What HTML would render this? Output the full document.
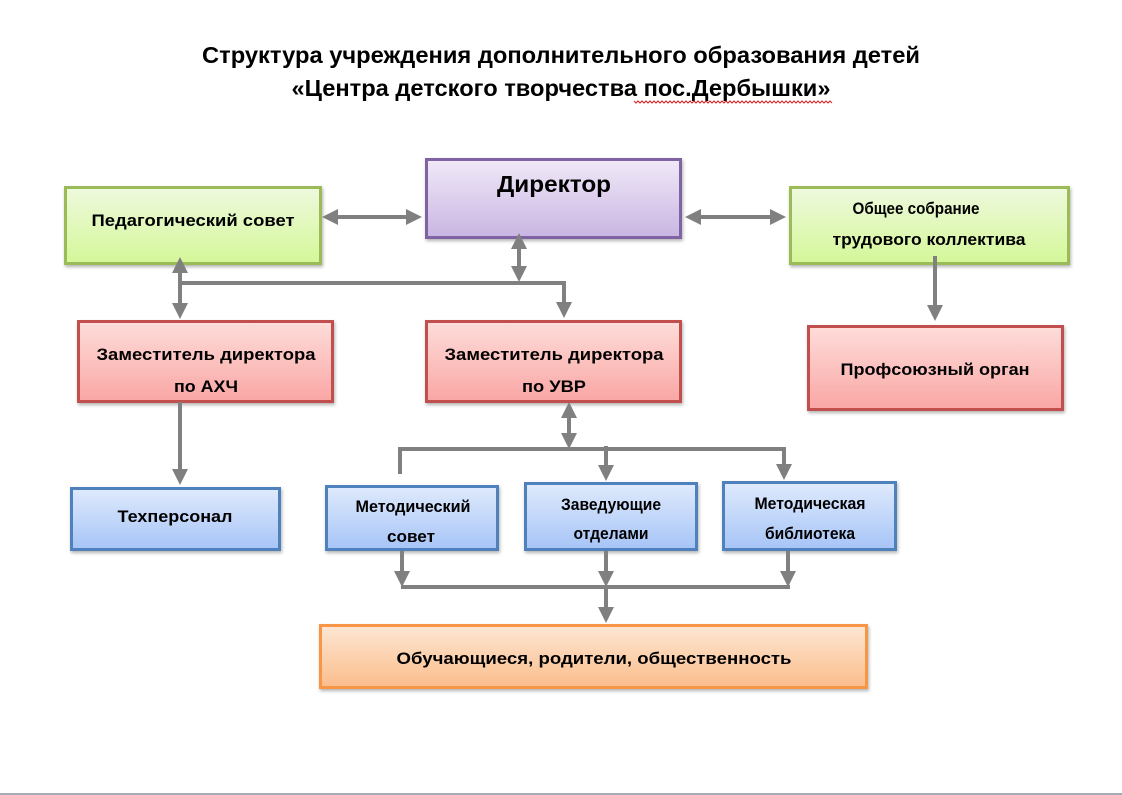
<!DOCTYPE html>
<html><head><meta charset="utf-8"><style>
html,body{margin:0;padding:0;background:#fff;}
svg{display:block;}
text{font-family:"Liberation Sans","DejaVu Sans",sans-serif;font-weight:bold;fill:#000;}
</style></head><body>
<svg width="1122" height="795" viewBox="0 0 1122 795" xmlns="http://www.w3.org/2000/svg">
<defs>
<linearGradient id="g" x1="0" y1="0" x2="0" y2="1"><stop offset="0" stop-color="#eef9dd"/><stop offset="1" stop-color="#d4f798"/></linearGradient>
<linearGradient id="p" x1="0" y1="0" x2="0" y2="1"><stop offset="0" stop-color="#f0e9f8"/><stop offset="1" stop-color="#c9b5e2"/></linearGradient>
<linearGradient id="r" x1="0" y1="0" x2="0" y2="1"><stop offset="0" stop-color="#feddda"/><stop offset="1" stop-color="#f9a6a4"/></linearGradient>
<linearGradient id="b" x1="0" y1="0" x2="0" y2="1"><stop offset="0" stop-color="#dfeafc"/><stop offset="1" stop-color="#a6c4f7"/></linearGradient>
<linearGradient id="o" x1="0" y1="0" x2="0" y2="1"><stop offset="0" stop-color="#fde6d3"/><stop offset="1" stop-color="#fbbd8b"/></linearGradient>
<filter id="sh" x="-5%" y="-5%" width="110%" height="120%"><feDropShadow dx="1" dy="2" stdDeviation="1.5" flood-color="#000" flood-opacity="0.3"/></filter>
<marker id="ah" markerWidth="4" markerHeight="4" refX="2" refY="2" orient="auto-start-reverse" markerUnits="strokeWidth"><path d="M0,0 L4,2 L0,4 z" fill="#808080"/></marker>
</defs>

<text x="561" y="63" font-size="23" text-anchor="middle" textLength="718" lengthAdjust="spacingAndGlyphs">Структура учреждения дополнительного образования детей</text>
<text x="561" y="96" font-size="23" text-anchor="middle" textLength="539" lengthAdjust="spacingAndGlyphs">«Центра детского творчества пос.Дербышки»</text>
<path d="M634,101 l2,2 l2,-2 l2,2 l2,-2 l2,2 l2,-2 l2,2 l2,-2 l2,2 l2,-2 l2,2 l2,-2 l2,2 l2,-2 l2,2 l2,-2 l2,2 l2,-2 l2,2 l2,-2 l2,2 l2,-2 l2,2 l2,-2 l2,2 l2,-2 l2,2 l2,-2 l2,2 l2,-2 l2,2 l2,-2 l2,2 l2,-2 l2,2 l2,-2 l2,2 l2,-2 l2,2 l2,-2 l2,2 l2,-2 l2,2 l2,-2 l2,2 l2,-2 l2,2 l2,-2 l2,2 l2,-2 l2,2 l2,-2 l2,2 l2,-2 l2,2 l2,-2 l2,2 l2,-2 l2,2 l2,-2 l2,2 l2,-2 l2,2 l2,-2 l2,2 l2,-2 l2,2 l2,-2 l2,2 l2,-2 l2,2 l2,-2 l2,2 l2,-2 l2,2 l2,-2 l2,2 l2,-2 l2,2 l2,-2 l2,2 l2,-2 l2,2 l2,-2 l2,2 l2,-2 l2,2 l2,-2 l2,2 l2,-2 l2,2 l2,-2 l2,2 l2,-2 l2,2 l2,-2 l2,2 l2,-2 l2,2" fill="none" stroke="#e02020" stroke-width="1"/>

<g stroke-width="3" filter="url(#sh)">
<rect x="65.5" y="187.5" width="255" height="76" fill="url(#g)" stroke="#9bbb59"/>
<rect x="426.5" y="159.5" width="254" height="78" fill="url(#p)" stroke="#8064a2"/>
<rect x="790.5" y="187.5" width="278" height="76" fill="url(#g)" stroke="#9bbb59"/>
<rect x="78.5" y="321.5" width="254" height="80" fill="url(#r)" stroke="#c0504d"/>
<rect x="426.5" y="321.5" width="254" height="80" fill="url(#r)" stroke="#c0504d"/>
<rect x="808.5" y="326.5" width="254" height="83" fill="url(#r)" stroke="#c0504d"/>
<rect x="71.5" y="488.5" width="208" height="61" fill="url(#b)" stroke="#4f81bd"/>
<rect x="326.5" y="486.5" width="171" height="63" fill="url(#b)" stroke="#4f81bd"/>
<rect x="525.5" y="483.5" width="171" height="66" fill="url(#b)" stroke="#4f81bd"/>
<rect x="723.5" y="482.5" width="172" height="67" fill="url(#b)" stroke="#4f81bd"/>
<rect x="320.5" y="625.5" width="546" height="62" fill="url(#o)" stroke="#f79646"/>
</g>

<g stroke="#808080" stroke-width="4" fill="none">
<line x1="330" y1="217" x2="414" y2="217" marker-start="url(#ah)" marker-end="url(#ah)"/>
<line x1="693" y1="217" x2="778" y2="217" marker-start="url(#ah)" marker-end="url(#ah)"/>
<line x1="519" y1="241" x2="519" y2="274" marker-start="url(#ah)" marker-end="url(#ah)"/>
<polyline points="180,283 564,283 564,310" marker-end="url(#ah)"/>
<line x1="180" y1="265" x2="180" y2="311" marker-start="url(#ah)" marker-end="url(#ah)"/>
<line x1="935" y1="256" x2="935" y2="313" marker-end="url(#ah)"/>
<line x1="180" y1="402" x2="180" y2="477" marker-end="url(#ah)"/>
<line x1="569" y1="410" x2="569" y2="441" marker-start="url(#ah)" marker-end="url(#ah)"/>
<polyline points="400,474 400,449 784,449 784,472" marker-end="url(#ah)"/>
<line x1="606" y1="446" x2="606" y2="473" marker-end="url(#ah)"/>
<line x1="402" y1="551" x2="402" y2="579" marker-end="url(#ah)"/>
<line x1="606" y1="551" x2="606" y2="579" marker-end="url(#ah)"/>
<line x1="788" y1="551" x2="788" y2="579" marker-end="url(#ah)"/>
<line x1="401" y1="587" x2="790" y2="587"/>
<line x1="606" y1="587" x2="606" y2="615" marker-end="url(#ah)"/>
</g>

<g font-size="17" text-anchor="middle">
<text x="193" y="226" textLength="203" lengthAdjust="spacingAndGlyphs">Педагогический  совет</text>
<text x="554" y="192" font-size="23" textLength="114" lengthAdjust="spacingAndGlyphs">Директор</text>
<text x="916" y="214" textLength="127" lengthAdjust="spacingAndGlyphs">Общее собрание</text>
<text x="929" y="245" textLength="193" lengthAdjust="spacingAndGlyphs">трудового  коллектива</text>
<text x="206" y="360" textLength="219" lengthAdjust="spacingAndGlyphs">Заместитель директора</text>
<text x="206" y="392" textLength="64" lengthAdjust="spacingAndGlyphs">по АХЧ</text>
<text x="554" y="360" textLength="219" lengthAdjust="spacingAndGlyphs">Заместитель директора</text>
<text x="554" y="392" textLength="64" lengthAdjust="spacingAndGlyphs">по УВР</text>
<text x="935" y="375" textLength="189" lengthAdjust="spacingAndGlyphs">Профсоюзный  орган</text>
<text x="175" y="522" textLength="115" lengthAdjust="spacingAndGlyphs">Техперсонал</text>
<text x="413" y="512" textLength="115" lengthAdjust="spacingAndGlyphs">Методический</text>
<text x="411" y="542" textLength="48" lengthAdjust="spacingAndGlyphs">совет</text>
<text x="611" y="510" textLength="100" lengthAdjust="spacingAndGlyphs">Заведующие</text>
<text x="611" y="539" textLength="75" lengthAdjust="spacingAndGlyphs">отделами</text>
<text x="810" y="509" textLength="111" lengthAdjust="spacingAndGlyphs">Методическая</text>
<text x="810" y="539" textLength="90" lengthAdjust="spacingAndGlyphs">библиотека</text>
<text x="594" y="664" textLength="395" lengthAdjust="spacingAndGlyphs">Обучающиеся, родители, общественность</text>
</g>

<rect x="0" y="793" width="1122" height="2" fill="#a3adb5"/>
</svg>
</body></html>
